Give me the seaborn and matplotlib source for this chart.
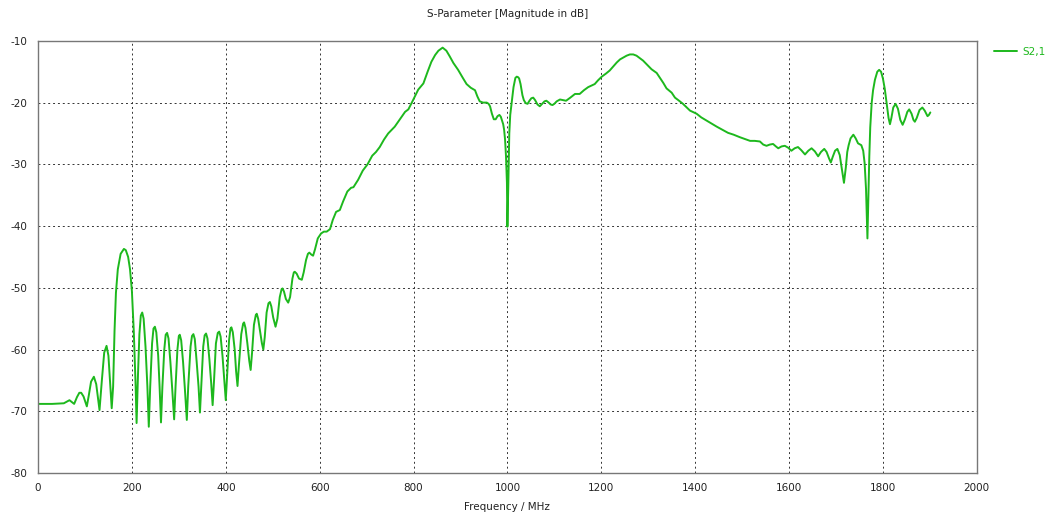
import matplotlib
matplotlib.use("Agg")
import matplotlib.pyplot as plt
import seaborn as sns
import pandas as pd

# S2,1 magnitude
freq_mhz = [
    0, 30, 55, 62, 67, 72, 77, 83, 88, 92, 97, 104, 108, 113, 119, 124, 131, 136, 141, 146,
    150, 154, 157, 160, 163, 166, 170, 176, 183, 187, 192, 196, 200, 204, 208, 210, 213, 216,
    219, 222, 225, 229, 233, 236, 239, 243, 246, 249, 252, 256, 259, 262, 265, 269, 272, 275,
    278, 282, 286, 290, 293, 297, 300, 302, 305, 309, 313, 317, 320, 325, 328, 331, 334, 338,
    342, 345, 348, 352, 355, 358, 361, 365, 369, 372, 375, 379, 383, 386, 389, 393, 397, 400,
    403, 407, 410, 412, 415, 419, 422, 425, 428, 433, 437, 439, 442, 446, 450, 453, 456, 460,
    464, 466, 469, 473, 477, 480, 483, 487, 491, 494, 497, 501, 506, 510, 515, 519, 521, 524,
    528, 533, 537, 542, 545, 547, 551, 556, 562, 566, 571, 575, 578, 582, 586, 590, 596, 603,
    609, 615, 622, 628, 635, 643, 650, 659, 667, 672, 682, 692, 702, 712, 720, 728, 737, 746,
    760, 772, 782, 789, 799, 810, 821, 830, 838, 846, 853, 862, 870, 877, 885, 895, 905, 913,
    922, 931, 936, 941, 948, 956, 960, 963, 967, 971, 975, 979, 983, 986, 988, 991, 993, 995,
    997, 999, 1000, 1002, 1004, 1006, 1009, 1013, 1017, 1020, 1023, 1025, 1028, 1032, 1035,
    1039, 1043, 1047, 1051, 1055, 1059, 1064, 1069, 1074, 1079, 1083, 1088, 1092, 1096, 1100,
    1105, 1112, 1118, 1125, 1134, 1144, 1154, 1163, 1172, 1186, 1193, 1201, 1210, 1218, 1225,
    1233, 1240, 1247, 1254, 1261, 1268, 1275, 1282, 1289, 1298, 1307, 1318, 1325, 1332, 1339,
    1350, 1357, 1364, 1374, 1389, 1403, 1413, 1424, 1435, 1446, 1458, 1470, 1482, 1495, 1506,
    1517, 1527, 1538, 1545, 1552, 1559, 1566, 1572, 1577, 1584, 1591, 1598, 1605, 1612, 1619,
    1626, 1634, 1641, 1648, 1655, 1662, 1668, 1675, 1680, 1685, 1689, 1693, 1698, 1703, 1708,
    1712, 1717, 1721, 1724, 1727, 1731, 1737, 1742, 1747, 1754, 1758, 1761, 1764, 1767, 1769,
    1771, 1773, 1776, 1779, 1783, 1788, 1792, 1796, 1800, 1804, 1808, 1812, 1815, 1818, 1822,
    1827, 1832, 1837, 1842, 1847, 1852, 1856, 1861, 1865, 1868, 1872, 1878, 1884, 1889, 1895,
    1898, 1901,
]
s21_db = [
    -68.8, -68.8, -68.7, -68.4, -68.2, -68.5, -68.8, -67.7, -67.0, -67.0, -67.6, -69.2, -67.5,
    -65.2, -64.4, -65.6, -69.8, -65.0, -60.5, -59.4, -61.0, -66.0, -69.5, -66.0, -57.0, -50.8,
    -47.0, -44.5, -43.7, -43.9, -45.0, -47.0, -50.5, -57.0, -66.0, -71.9, -64.0, -57.5, -54.5,
    -54.0, -55.0, -59.5, -66.0, -72.5, -66.0, -59.0, -56.6, -56.3, -57.2, -61.0, -66.0, -71.8,
    -66.0, -60.0, -57.6, -57.3, -58.2, -62.0, -66.5, -71.3, -66.0, -60.0, -57.8, -57.6, -58.5,
    -62.0, -66.5, -71.4, -66.0, -59.5, -57.8, -57.5, -58.3, -62.0, -66.0, -70.2, -65.5, -59.5,
    -57.7, -57.4, -58.2, -61.5, -65.5, -69.0, -65.0, -59.0, -57.3, -57.1, -57.9, -61.0, -65.0,
    -68.2, -64.0, -58.5, -56.6, -56.4, -57.2, -60.0, -63.5, -65.9, -62.5, -57.5, -55.8, -55.6,
    -56.5, -59.0, -61.8, -63.3, -60.5, -56.0, -54.4, -54.2, -55.0, -57.0, -59.0, -60.0, -58.0,
    -54.0, -52.5, -52.3, -53.0, -54.8, -56.3, -55.0, -51.5, -50.2, -50.1, -50.6, -51.8, -52.4,
    -51.5, -48.5, -47.5, -47.4, -47.7, -48.5, -48.7, -47.5, -45.5, -44.5, -44.3, -44.6, -44.8,
    -43.8, -42.0, -41.2, -40.9, -40.9, -40.5, -39.0, -37.7, -37.4, -36.0, -34.4, -33.8, -33.7,
    -32.5, -31.0, -30.0, -28.6, -28.0, -27.2, -26.0, -25.0, -23.9, -22.6, -21.5, -21.1, -19.6,
    -17.9, -16.9, -15.0, -13.4, -12.3, -11.6, -11.1, -11.6, -12.5, -13.6, -14.7, -16.0, -17.0,
    -17.6, -18.0, -19.0, -19.8, -20.0, -20.0, -20.2, -20.6, -21.8, -22.7, -22.7, -22.2, -22.0,
    -22.3, -22.8, -23.5, -24.4, -26.0, -28.7, -33.0, -40.1, -33.0, -25.0, -22.0, -20.1, -17.5,
    -16.0, -15.8, -15.9, -16.1, -17.0, -18.8, -19.6, -20.1, -20.2, -19.7, -19.3, -19.2, -19.6,
    -20.3, -20.6, -20.2, -19.8, -19.7, -20.0, -20.3, -20.4, -20.2, -19.8, -19.5, -19.6, -19.7,
    -19.2, -18.6, -18.6, -18.0, -17.5, -17.0, -16.4, -15.8, -15.3, -14.8, -14.2, -13.5, -13.0,
    -12.7, -12.4, -12.2, -12.2, -12.4, -12.8, -13.2, -13.9, -14.6, -15.2, -16.0, -16.8, -17.7,
    -18.4, -19.2, -19.6, -20.2, -21.3, -21.8, -22.4, -22.9, -23.4, -23.9, -24.4, -24.9, -25.2,
    -25.6, -25.9, -26.2, -26.2, -26.3, -26.8, -27.0, -26.8, -26.7, -27.1, -27.4, -27.1, -27.0,
    -27.3, -27.8, -27.4, -27.2, -27.7, -28.4, -27.8, -27.4, -27.9, -28.7, -28.0, -27.5, -28.0,
    -29.0, -29.7, -28.8, -27.8, -27.5, -28.5, -30.5, -33.0, -30.5, -28.0, -26.9, -25.8, -25.2,
    -25.8, -26.6, -26.9, -27.8, -29.8, -34.0, -42.0, -35.0, -28.7, -24.0, -20.1, -18.0, -16.3,
    -15.0, -14.7, -15.0, -16.1, -17.8, -20.1, -22.5, -23.5, -22.5, -20.8, -20.2, -21.0, -22.8,
    -23.6, -22.7, -21.5, -21.1, -21.8, -22.8, -23.1, -22.5, -21.2, -20.8, -21.3, -22.2, -22.0,
    -21.6,
]
series_name = "S2,1"
x_ticks = [0, 200, 400, 600, 800, 1000, 1200, 1400, 1600, 1800, 2000]
y_ticks = [-80, -70, -60, -50, -40, -30, -20, -10]

df = pd.DataFrame({"freq": freq_mhz, "db": s21_db, "name": series_name})

sns.set_style("white")
plt.rcParams["font.family"] = ["DejaVu Sans"]
plt.rcParams["font.size"] = 7.5
plt.rcParams["axes.unicode_minus"] = False

green = "#1db81d"

fig = plt.figure(figsize=(10.56, 5.17), dpi=100)
ax = fig.add_axes([0.036, 0.085, 0.889, 0.836])

sns.lineplot(data=df, x="freq", y="db", hue="name", palette=[green],
             linewidth=1.4, sort=False, estimator=None, ax=ax)

ax.set_xlim(0, 2000)
ax.set_ylim(-80, -10)
ax.set_xticks(x_ticks)
ax.set_yticks(y_ticks)
ax.grid(True, color="#333333", linestyle=(0, (2, 3)), linewidth=0.7)
for sp in ax.spines.values():
    sp.set_color("#777777")
    sp.set_linewidth(1.0)
ax.tick_params(axis="both", direction="out", length=4, width=0.8,
               color="#555555", labelsize=7.5, labelcolor="#222222")

ax.set_xlabel("Frequency / MHz", fontsize=7.5, color="#222222", labelpad=6)
ax.set_ylabel("")
ax.set_title("S-Parameter [Magnitude in dB]", fontsize=7.5, color="#222222", pad=17)

leg = ax.legend(loc="upper left", bbox_to_anchor=(1.012, 1.0), frameon=False,
                handlelength=2.2, handletextpad=0.5, fontsize=7.5,
                labelcolor=green, borderaxespad=0.2)

fig.savefig("out.png", dpi=100)
